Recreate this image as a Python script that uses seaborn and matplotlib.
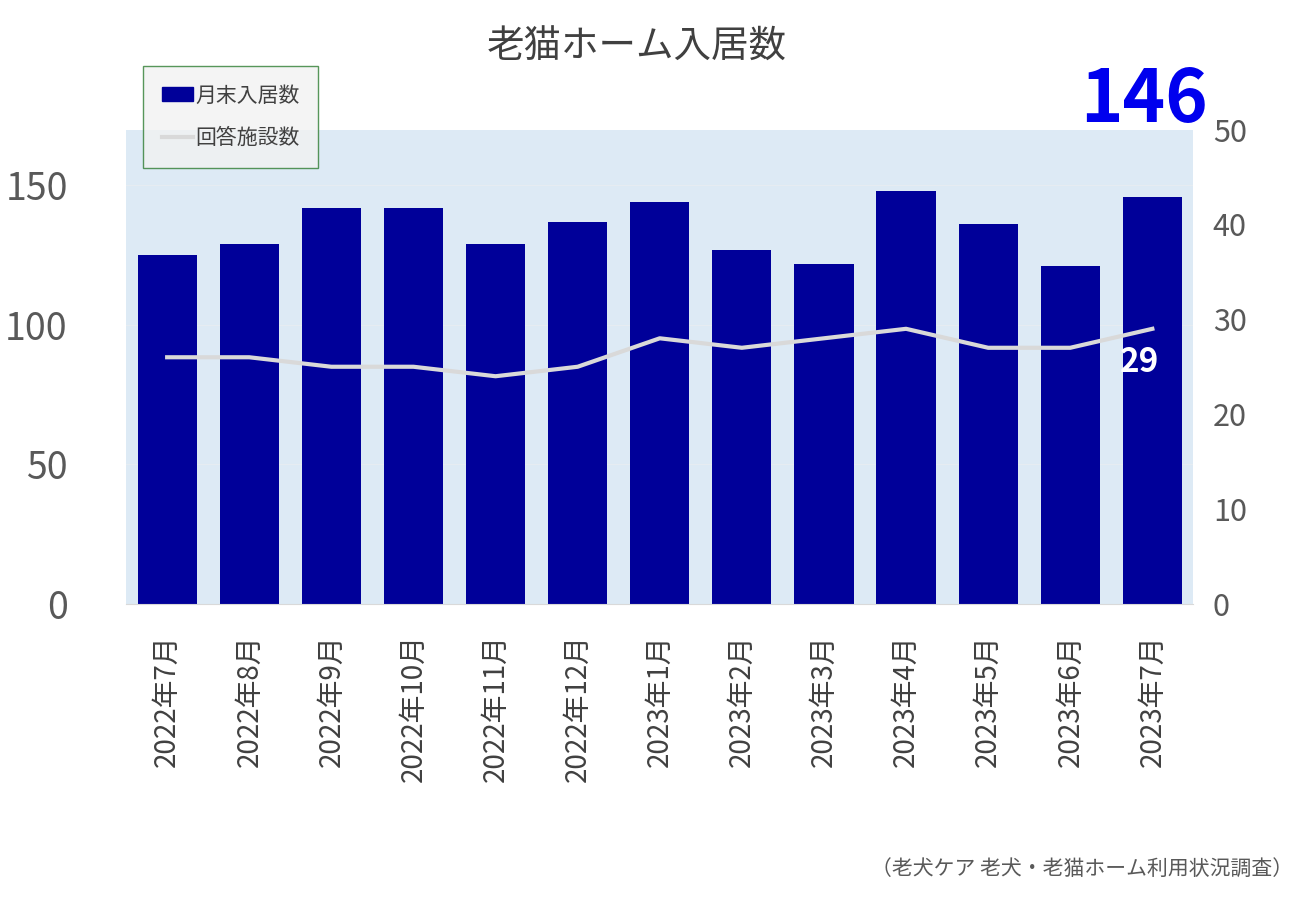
import matplotlib
matplotlib.use("Agg")
import matplotlib.pyplot as plt
import seaborn as sns
import pandas as pd
from matplotlib.patches import Patch
from matplotlib.lines import Line2D

plt.rcParams["font.family"] = "Noto Sans CJK JP"

months = ["2022年7月","2022年8月","2022年9月","2022年10月","2022年11月","2022年12月",
          "2023年1月","2023年2月","2023年3月","2023年4月","2023年5月","2023年6月","2023年7月"]
residents = [125,129,142,142,129,137,144,127,122,148,136,121,146]
facilities = [26,26,25,25,24,25,28,27,28,29,27,27,29]

df = pd.DataFrame({"month": months, "residents": residents, "facilities": facilities})

fig = plt.figure(figsize=(13, 9), dpi=100)
ax = fig.add_axes([0.097, 0.329, 0.821, 0.527])
ax.set_facecolor("#DDEAF5")
sns.barplot(data=df, x="month", y="residents", color="#000099", width=0.72,
            saturation=1, ax=ax)
ax.set_ylim(0, 170)
ax.set_yticks([0, 50, 100, 150])
ax.tick_params(axis="y", labelsize=27, colors="#595959", length=0, pad=42)
ax.tick_params(axis="x", labelsize=20, colors="#404040", rotation=90, length=0, pad=22)
ax.set_xlabel(""); ax.set_ylabel("")
for y in [50, 100, 150]:
    ax.axhline(y, color="#E6ECF2", lw=0.8, zorder=0)
for s in ["top", "right", "left"]:
    ax.spines[s].set_visible(False)
ax.spines["bottom"].set_color("#D9D9D9")
ax.set_xlim(-0.5, len(months) - 0.5)

ax2 = ax.twinx()
sns.lineplot(x=list(range(len(months))), y=facilities, color="#D9D9D9", lw=3, ax=ax2)
ax2.set_ylim(0, 50)
ax2.set_yticks([0, 10, 20, 30, 40, 50])
ax2.tick_params(axis="y", labelsize=22, colors="#595959", length=0, pad=14)
for s in ax2.spines.values():
    s.set_visible(False)
ax2.text(len(months) - 1 - 0.15, facilities[-1] - 1.8, str(facilities[-1]), color="white",
         fontsize=24, fontweight="bold", ha="center", va="top")

fig.text(0.49, 0.948, "老猫ホーム入居数", fontsize=27, color="#404040", ha="center", va="center")
fig.text(0.88, 0.888, str(residents[-1]), fontsize=52, color="#0000EE", fontweight="bold",
         ha="center", va="center")
fig.text(0.995, 0.022, "（老犬ケア 老犬・老猫ホーム利用状況調査）", fontsize=15, color="#595959",
         ha="right", va="bottom")

handles = [Patch(color="#000099", label="月末入居数"),
           Line2D([0], [0], color="#D9D9D9", lw=3, label="回答施設数")]
leg = fig.legend(handles=handles, loc="upper left", bbox_to_anchor=(0.11, 0.927),
                 fontsize=15, frameon=True, fancybox=False, labelspacing=1.0,
                 handlelength=1.5, handletextpad=0.1, borderpad=0.9, borderaxespad=0)
leg.get_frame().set_edgecolor("#2E7D32")
leg.get_frame().set_facecolor("#F2F2F2")
for t in leg.get_texts():
    t.set_color("#404040")

fig.savefig("out.png", dpi=100)
